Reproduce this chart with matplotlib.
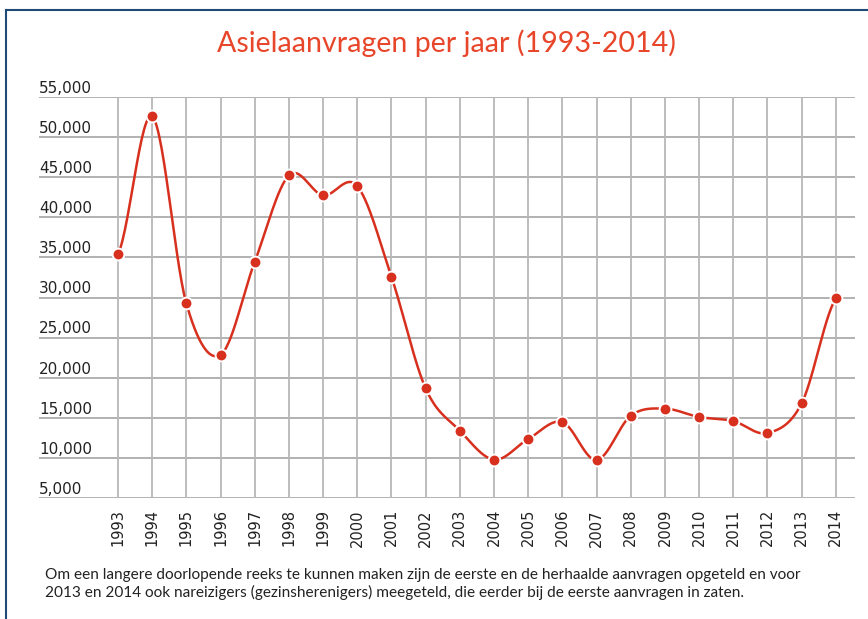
import numpy as np
from matplotlib import pyplot as plt
from matplotlib.lines import Line2D

# Gegevens: asielaanvragen per jaar
years = [1993, 1994, 1995, 1996, 1997, 1998, 1999, 2000, 2001, 2002, 2003,
         2004, 2005, 2006, 2007, 2008, 2009, 2010, 2011, 2012, 2013, 2014]
requests = [35400, 52576, 29258, 22857, 34443, 45217, 42733, 43895, 32579,
            18667, 13402, 9782, 12347, 14465, 9731, 15255, 16140, 15100,
            14590, 13100, 16810, 29890]
y_ticks = [5000, 10000, 15000, 20000, 25000, 30000, 35000, 40000, 45000,
           50000, 55000]

title = "Asielaanvragen per jaar (1993-2014)"
note = ("Om een langere doorlopende reeks te kunnen maken zijn de eerste en de herhaalde aanvragen opgeteld en voor\n"
        "2013 en 2014 ook nareizigers (gezinsherenigers) meegeteld, die eerder bij de eerste aanvragen in zaten.")

red = '#d8301e'


def smooth(x, y, steps=30):
    # Catmull-Rom curve door de punten (alleen voor de getekende lijn)
    x = np.asarray(x, float)
    y = np.asarray(y, float)
    px = np.concatenate([[2 * x[0] - x[1]], x, [2 * x[-1] - x[-2]]])
    py = np.concatenate([[y[0]], y, [y[-1]]])
    xs, ys = [], []
    t = np.linspace(0, 1, steps)
    for i in range(1, len(px) - 2):
        m0 = (py[i + 1] - py[i - 1]) / 2
        m1 = (py[i + 2] - py[i]) / 2
        h00 = 2 * t**3 - 3 * t**2 + 1
        h10 = t**3 - 2 * t**2 + t
        h01 = -2 * t**3 + 3 * t**2
        h11 = t**3 - t**2
        xs.append(px[i] + t * (px[i + 1] - px[i]))
        ys.append(h00 * py[i] + h10 * m0 + h01 * py[i + 1] + h11 * m1)
    return np.concatenate(xs), np.concatenate(ys)


fig = plt.figure(figsize=(8.68, 6.19), dpi=100)
ax = fig.add_axes([39 / 868, 1 - 498 / 619, 816 / 868, 401 / 619])

# Rasterlijnen
for yt in y_ticks:
    ax.axhline(yt, color='#9c9c9c', lw=1.1, zorder=1)
for yr in years:
    ax.plot([yr, yr], [y_ticks[0], y_ticks[-1]], color='#b8b8b8', lw=1.3, zorder=1)

sx, sy = smooth(years, requests)
ax.plot(sx, sy, color=red, lw=1.8, zorder=3, solid_capstyle='round')
ax.plot(years, requests, 'o', color=red, ms=8.5, mec='white', mew=1.4, zorder=4)

ax.set_xlim(1990.69, 2014.56)
ax.set_ylim(y_ticks[0], y_ticks[-1])
for s in ax.spines.values():
    s.set_visible(False)

ax.set_xticks(years)
ax.set_xticklabels([str(y) for y in years], rotation=90, fontsize=10.5,
                   family='DejaVu Sans', color='#222222')
ax.tick_params(axis='x', length=0, pad=8)
ax.set_yticks([])

for yt in y_ticks:
    ax.text(0, yt + 520, f"{yt:,}", transform=ax.get_yaxis_transform(),
            ha='left', va='baseline', fontsize=11, family='DejaVu Sans',
            color='#222222')

fig.text(446 / 868, 1 - 43 / 619, title, ha='center', va='center',
         fontsize=20.6, color='#e8462a',
         family=['Lato', 'DejaVu Sans'])

fig.text(45 / 868, 1 - 584 / 619, note, ha='left', va='center',
         fontsize=11.1, color='#222222', linespacing=1.3,
         family=['Lato', 'DejaVu Sans'])

# Kader links en boven
frame = '#1f4a78'
fig.add_artist(Line2D([5.5 / 868, 5.5 / 868], [0, 1 - 10 / 619],
                      transform=fig.transFigure, color=frame, lw=1.5))
fig.add_artist(Line2D([5.5 / 868, 1], [1 - 10 / 619, 1 - 10 / 619],
                      transform=fig.transFigure, color=frame, lw=1.5))

fig.savefig('out.png', dpi=100)
